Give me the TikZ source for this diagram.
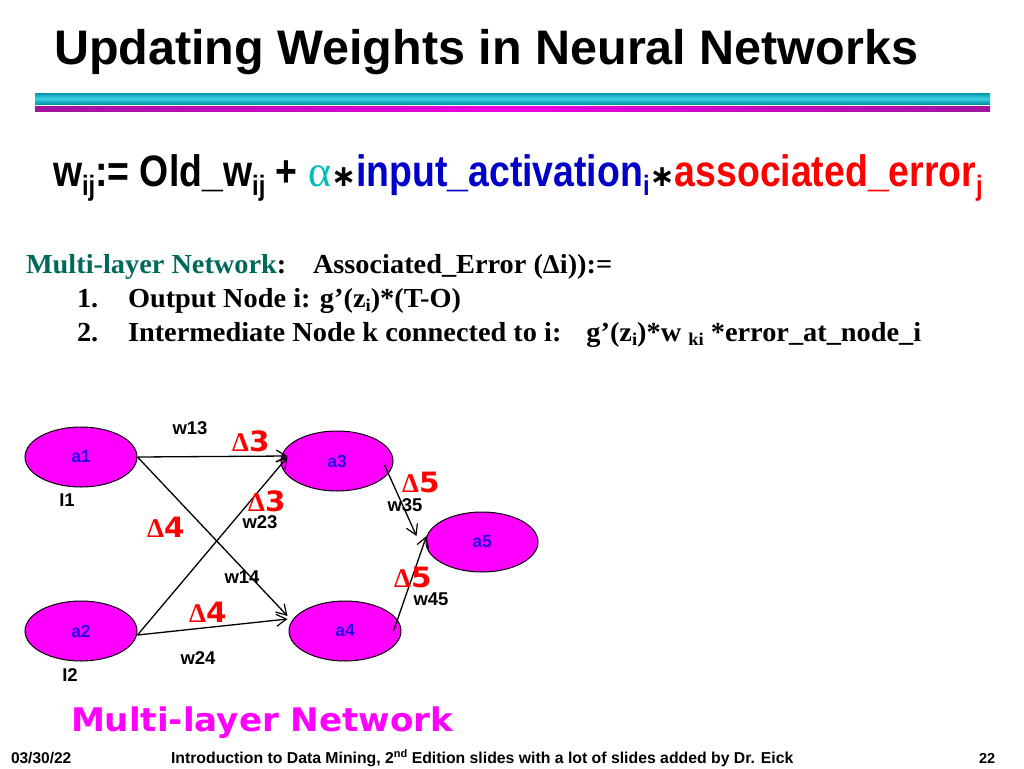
\documentclass[tikz,border=0pt]{standalone}
\usepackage{fontspec}
\usetikzlibrary{arrows.meta,shapes.geometric}
\setmainfont{Liberation Sans}
\newfontfamily\serifx{Liberation Serif}
\newfontfamily\bodyx[FakeStretch=1.03]{Liberation Serif}
\newfontfamily\condx[FakeStretch=0.85]{Liberation Sans}
\newfontfamily\dejax[FakeStretch=1.05]{DejaVu Sans}
\newfontfamily\dejaplain{DejaVu Sans}
\definecolor{teal1}{RGB}{0,150,170}
\definecolor{teal2}{RGB}{60,210,225}
\definecolor{mag1}{RGB}{160,20,160}
\definecolor{mag2}{RGB}{240,0,230}
\definecolor{nodemag}{RGB}{255,0,255}
\definecolor{eqblue}{RGB}{0,0,200}
\definecolor{alph}{RGB}{0,190,190}
\definecolor{grn}{RGB}{0,105,90}
\definecolor{lblue}{RGB}{40,0,230}
\tikzset{
  x=1pt,y=-1pt,
  txt/.style={anchor=base west,inner sep=0pt,outer sep=0pt},
  unit/.style={ellipse,draw=black,line width=1pt,fill=nodemag,minimum width=112pt,minimum height=60pt,inner sep=0pt,text=lblue,font=\fontsize{17.5}{17.5}\selectfont\bfseries},
  wlab/.style={anchor=center,inner sep=0pt,font=\fontsize{18.5}{18.5}\selectfont\bfseries},
  dlab/.style={anchor=base west,inner sep=0pt,text=red,font=\fontsize{28}{28}\dejax\bfseries},
  conn/.style={line width=1.3pt,-{Straight Barb[length=10pt,width=12pt,line width=1.2pt]}},
  body/.style={txt,font=\fontsize{27.5}{27.5}\bodyx\bfseries},
}
\newcommand{\dg}{{\serifx\fontsize{27}{27}\selectfont\textbf{Δ}}}
\newcommand{\astx}[1]{{\color{black}\dejaplain\bfseries\fontsize{#1}{#1}\selectfont ∗}}
\begin{document}
\begin{tikzpicture}
\useasboundingbox (0,0) rectangle (1024,768);
\fill[white] (0,0) rectangle (1024,768);
\node[txt,font=\fontsize{48.5}{48.5}\selectfont\bfseries] (title) at (54,64) {Updating Weights in Neural Networks};
\shade[top color=teal1,bottom color=teal1,middle color=teal2] (35,93) rectangle (990,104);
\shade[left color=mag1,right color=mag1,middle color=mag2] (35,106) rectangle (990,111);
\node[txt,font=\fontsize{44}{44}\condx\bfseries] (eq) at (53,186) {w\raisebox{-9pt}{\fontsize{28}{28}\selectfont ij}:= Old\_w\raisebox{-9pt}{\fontsize{28}{28}\selectfont ij} + {\color{alph}\serifx\mdseries\fontsize{44}{44}\selectfont α}\astx{30}{\color{eqblue}input\_activation\raisebox{-9pt}{\fontsize{28}{28}\selectfont i}}\astx{30}{\color{red}associated\_error\raisebox{-9pt}{\fontsize{28}{28}\selectfont j}}};
\node[body] (h) at (26,273) {{\color{grn}Multi-layer Network}:};
\node[body] (assoc) at (313,273) {Associated\_Error (\dg i)):=};
\node[body] (n1) at (77,307) {1.};
\node[body] (l1) at (128,307) {Output Node i: g’(z\raisebox{-4pt}{\fontsize{18}{18}\selectfont i})*(T-O)};
\node[body] (n2) at (77,341) {2.};
\node[body] (l2) at (128,341) {Intermediate Node k connected to i:\hspace{25pt}g’(z\raisebox{-4pt}{\fontsize{18}{18}\selectfont i})*w \raisebox{-4pt}{\fontsize{18}{18}\selectfont ki} *error\_at\_node\_i};
\node[unit] (a1) at (81,457) {a1};
\node[unit] (a2) at (81,631) {a2};
\node[unit] (a3) at (337,461) {a3};
\node[unit] (a4) at (345,631) {a4};
\node[unit] (a5) at (482,542) {a5};
\draw[conn] (a1.east) -- ([xshift=7pt,yshift=5pt]a3.west);
\draw[conn] (a1.east) -- ([xshift=-1pt,yshift=15pt]a4.west);
\draw[conn] ([yshift=-4pt]a2.east) -- ([xshift=7pt,yshift=4pt]a3.west);
\draw[conn] ([yshift=-4pt]a2.east) -- ([xshift=-1pt,yshift=12pt]a4.west);
\draw[conn] ([xshift=-9pt,yshift=-4pt]a3.east) -- ([xshift=-9pt,yshift=6pt]a5.west);
\draw[conn] ([xshift=-8pt]a4.east) -- ([xshift=1pt,yshift=6pt]a5.west);
\node[wlab] (w13) at (190,428) {w13};
\node[wlab] (w23) at (260,522) {w23};
\node[wlab] (w14) at (242,577) {w14};
\node[wlab] (w24) at (198,658) {w24};
\node[wlab] (w35) at (405,505) {w35};
\node[wlab] (w45) at (431,599) {w45};
\node[wlab] (i1) at (67,500) {I1};
\node[wlab] (i2) at (70,675) {I2};
\node[dlab] (d1) at (232,451) {\dg 3};
\node[dlab] (d2) at (248,511) {\dg 3};
\node[dlab] (d3) at (147,537) {\dg 4};
\node[dlab] (d4) at (189,622) {\dg 4};
\node[dlab] (d5) at (402,492) {\dg 5};
\node[dlab] (d6) at (394,587) {\dg 5};
\node[txt,text=nodemag,font=\fontsize{32.5}{32.5}\dejax\bfseries] (ml) at (71,731) {Multi-layer Network};
\node[txt,font=\fontsize{15.5}{15.5}\selectfont\bfseries] (date) at (11,763) {03/30/22};
\node[txt,font=\fontsize{15.8}{15.8}\selectfont\bfseries] (foot) at (171,763) {Introduction to Data Mining, 2\raisebox{6pt}{\fontsize{11}{11}\selectfont nd} Edition slides with a lot of slides added by Dr. Eick};
\node[txt,font=\fontsize{14.5}{14.5}\selectfont\bfseries] (pg) at (979,763) {22};
\end{tikzpicture}
\end{document}
